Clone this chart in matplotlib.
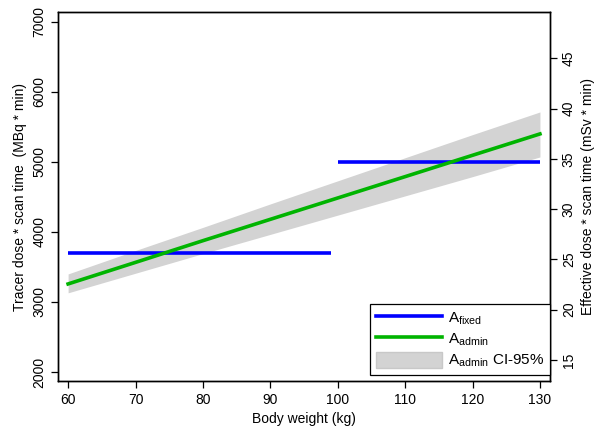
import matplotlib
matplotlib.use('Agg')
import matplotlib.pyplot as plt
from matplotlib.patches import Patch
from matplotlib.lines import Line2D

plt.rcParams['font.family'] = ['Liberation Sans', 'DejaVu Sans']
plt.rcParams['mathtext.fontset'] = 'custom'
plt.rcParams['mathtext.rm'] = 'Liberation Sans'
plt.rcParams['mathtext.it'] = 'Liberation Sans'
plt.rcParams['mathtext.default'] = 'regular'

# body weight (kg)
weight = [60, 70, 80, 90, 100, 110, 120, 130]
# A_admin and its 95% CI (MBq * min)
a_admin = [3257, 3565, 3875, 4180, 4485, 4790, 5095, 5400]
ci_low = [3130, 3410, 3690, 3965, 4240, 4515, 4790, 5071]
ci_high = [3400, 3735, 4065, 4400, 4730, 5060, 5390, 5714]
# A_fixed segments
fixed_x1 = [60, 99]
fixed_y1 = [3700, 3700]
fixed_x2 = [100, 130]
fixed_y2 = [5000, 5000]

left_ticks = [2000, 3000, 4000, 5000, 6000, 7000]
right_ticks = [15, 20, 25, 30, 35, 40, 45]

blue = '#0000ff'
green = '#00b400'
grey = '#d3d3d3'

fig = plt.figure(figsize=(5.99, 4.33), dpi=100)
ax = fig.add_axes([0.0968, 0.12, 0.8215, 0.852])

ax.fill_between(weight, ci_low, ci_high, color=grey, lw=0)
ax.plot(fixed_x1, fixed_y1, color=blue, lw=2.6, solid_capstyle='butt')
ax.plot(fixed_x2, fixed_y2, color=blue, lw=2.6, solid_capstyle='butt')
ax.plot(weight, a_admin, color=green, lw=2.6)

ax.set_xlim(58.5, 131.5)
ax.set_ylim(1870, 7140)
ax.set_xticks([60, 70, 80, 90, 100, 110, 120, 130])
ax.set_yticks(left_ticks)
ax.set_yticklabels([str(t) for t in left_ticks], rotation=90, va='center')
ax.tick_params(direction='out', length=5, width=0.9, labelsize=10)
ax.set_xlabel('Body weight (kg)', fontsize=10)
ax.set_ylabel('Tracer dose * scan time  (MBq * min)', fontsize=10)

ax2 = ax.twinx()
ax2.set_ylim(12.9, 49.6)
ax2.set_yticks(right_ticks)
ax2.set_yticklabels([str(t) for t in right_ticks], rotation=90, va='center')
ax2.tick_params(direction='out', length=5, width=0.9, labelsize=10)
ax2.set_ylabel('Effective dose * scan time (mSv * min)', fontsize=10)

for a in (ax, ax2):
    for s in a.spines.values():
        s.set_linewidth(1.0)

handles = [
    Line2D([], [], color=blue, lw=2.6),
    Line2D([], [], color=green, lw=2.6),
    Patch(facecolor=grey, edgecolor='#c8c8c8'),
]
labels = ['A$_{fixed}$', 'A$_{admin}$', 'A$_{admin}$ CI-95%']
leg = ax2.legend(handles, labels, loc='lower right',
                 bbox_to_anchor=(1.0, 0.017), fontsize=11,
                 handlelength=4.3, handleheight=1.3, handletextpad=0.45,
                 borderpad=0.35, fancybox=False, framealpha=1,
                 edgecolor='black', borderaxespad=0.0, labelspacing=0.22)
leg.get_frame().set_linewidth(0.9)

fig.savefig('out.png', dpi=100)
